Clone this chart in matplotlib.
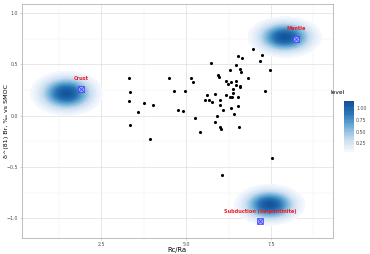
import numpy as np
import matplotlib.pyplot as plt
from matplotlib.colors import LinearSegmentedColormap, Normalize

# samples
rc_ra = [3.31, 3.34, 3.31, 3.57, 3.76, 4.03, 4.48, 4.65, 4.95, 4.77, 4.91, 3.34, 3.92,
         6.98, 7.23, 7.18, 7.46, 6.53, 6.65, 6.47, 6.28, 6.58, 6.61, 6.82, 5.73, 5.13,
         5.19, 5.93, 5.97, 6.17, 6.32, 6.48, 6.23, 6.46, 6.59, 6.60, 6.38, 7.31, 5.60,
         5.84, 6.18, 6.28, 5.56, 5.67, 5.76, 6.00, 6.34, 6.38, 6.53, 6.00, 6.52, 6.33,
         6.08, 5.26, 5.92, 6.41, 5.86, 5.99, 6.02, 6.55, 5.41, 7.53, 6.06]
d81br = [0.367, 0.229, 0.139, 0.031, 0.121, 0.100, 0.367, 0.239, 0.239, 0.052, 0.041, -0.090, -0.225,
         0.648, 0.594, 0.529, 0.439, 0.580, 0.565, 0.497, 0.445, 0.458, 0.420, 0.367, 0.515, 0.369,
         0.328, 0.394, 0.379, 0.340, 0.326, 0.336, 0.307, 0.297, 0.290, 0.275, 0.261, 0.242, 0.203,
         0.210, 0.200, 0.183, 0.150, 0.150, 0.131, 0.152, 0.181, 0.222, 0.184, 0.100, 0.097, 0.072,
         0.050, -0.020, 0.000, 0.014, -0.058, -0.109, -0.132, -0.114, -0.158, -0.409, -0.576]

# end members
end_names = ['Crust', 'Mantle', 'Subduction (serpentinite)']
end_rc = [1.91, 8.25, 7.17]
end_br = [0.258, 0.748, -1.028]

# density blobs around end members
blob_rc = [1.47, 7.91, 7.46]
blob_br = [0.217, 0.764, -0.867]
blob_sx = [0.45, 0.46, 0.44]
blob_sy = [0.092, 0.084, 0.084]
blob_peak = 1.12

level_ticks = [0.25, 0.50, 0.75, 1.00]

fig = plt.figure(figsize=(3.7, 2.54), dpi=100)
ax = fig.add_axes([0.059, 0.063, 0.841, 0.921])

xlim = (0.15, 9.33)
ylim = (-1.19, 1.085)
gx, gy = np.meshgrid(np.linspace(*xlim, 500), np.linspace(*ylim, 400))
dens = np.zeros_like(gx)
for cx, cy, sx, sy in zip(blob_rc, blob_br, blob_sx, blob_sy):
    dens += blob_peak * np.exp(-((gx - cx) ** 2 / (2 * sx ** 2) + (gy - cy) ** 2 / (2 * sy ** 2)))

cmap = LinearSegmentedColormap.from_list('lvl', ['#f6f9fe', '#c6dbef', '#6baed6', '#2b74b5', '#0d4f96'])
norm = Normalize(0.07, 1.17)
cs = ax.contourf(gx, gy, dens, levels=np.linspace(0.07, 1.17, 40), cmap=cmap, norm=norm, zorder=1)

ax.scatter(rc_ra, d81br, s=5, color='black', lw=0, zorder=3)

ax.scatter(end_rc, end_br, s=14, marker='s', facecolor='#9fa8ff', edgecolor='#3a3aff', lw=0.5, zorder=4)
ax.scatter(end_rc, end_br, s=12, marker='x', color='#3a3aff', lw=0.5, zorder=5)
for name, x, y in zip(end_names, end_rc, end_br):
    ax.text(x, y + 0.1, name, color='#ee1c25', fontsize=3.6, fontweight='bold',
            ha='center', va='center', zorder=6)

ax.set_xlim(*xlim)
ax.set_ylim(*ylim)
ax.set_xticks([2.5, 5.0, 7.5])
ax.set_yticks([-1.0, -0.5, 0.0, 0.5, 1.0])
ax.set_xticks([1.25, 3.75, 6.25, 8.75], minor=True)
ax.set_yticks([-0.75, -0.25, 0.25, 0.75], minor=True)
ax.grid(which='major', color='#dedede', lw=0.5, zorder=0)
ax.grid(which='minor', color='#efefef', lw=0.3, zorder=0)
ax.set_axisbelow(True)
for s in ax.spines.values():
    s.set_color('#b3b3b3')
    s.set_linewidth(0.6)
ax.tick_params(which='major', labelsize=3.4, labelcolor='#4d4d4d', color='#b3b3b3', length=1.5, width=0.4, pad=1.2)
ax.tick_params(which='minor', length=0)

ax.set_xlabel('Rc/Ra', fontsize=4.8, va='center')
ax.set_ylabel('δ^(81) Br, ‰ vs SMOC', fontsize=4.6, va='center')
ax.xaxis.set_label_coords(0.5, -0.051)
ax.yaxis.set_label_coords(-0.049, 0.5)

cax = fig.add_axes([0.930, 0.403, 0.027, 0.201])
cb = fig.colorbar(cs, cax=cax, ticks=level_ticks)
cb.outline.set_visible(False)
cb.ax.set_yticklabels(['%.2f' % t for t in level_ticks])
cb.ax.tick_params(labelsize=3.4, labelcolor='#4d4d4d', length=0, pad=1.5)
fig.text(0.892, 0.628, 'level', fontsize=4.2, color='black')

fig.savefig('out.png', dpi=100)
